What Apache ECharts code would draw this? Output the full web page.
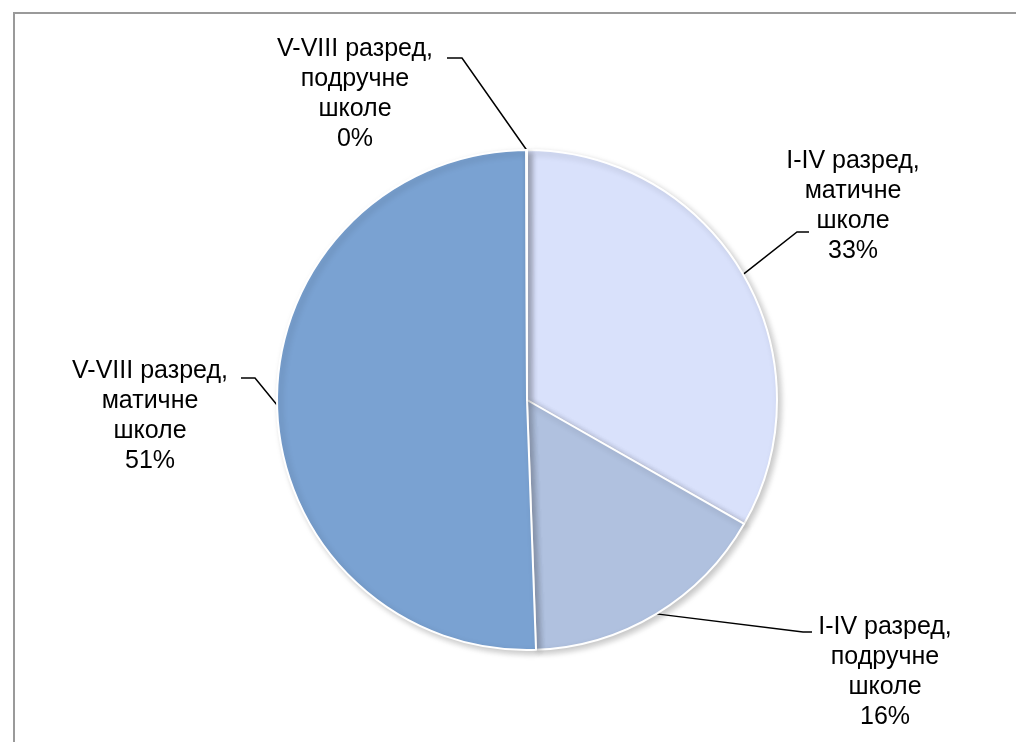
<!DOCTYPE html>
<html>
<head>
<meta charset="utf-8">
<script src="https://cdn.jsdelivr.net/npm/echarts@6/dist/echarts.min.js"></script>
<style>
html,body{margin:0;padding:0;background:#fff;}
#chart{width:1016px;height:742px;}
</style>
</head>
<body>
<div id="chart"></div>
<script>
const categories = [
  'I-IV разред,\nматичне\nшколе',
  'I-IV разред,\nподручне\nшколе',
  'V-VIII разред,\nматичне\nшколе',
  'V-VIII разред,\nподручне\nшколе'
];
const values = [33.3, 16.2, 50.6, 0.05];
const colors = ['#D9E1FB', '#B0C1DF', '#7AA2D2', '#C9D5EE'];

// label block centres and leader-line elbows (annotation layout only)
const labelPlace = [
  { cx: 853, cy: 206, elbow: [[797, 232], [809, 232]] },
  { cx: 885, cy: 672, elbow: [[803, 632], [812, 632]] },
  { cx: 150, cy: 416, elbow: [[255, 378], [241, 378]] },
  { cx: 355, cy: 94,  elbow: [[462, 58],  [447, 58]] }
];

const chart = echarts.init(document.getElementById('chart'), null, { renderer: 'canvas' });

const data = categories.map((c, i) => ({
  name: c,
  value: values[i],
  itemStyle: { color: colors[i] }
}));

chart.setOption({
  animation: false,
  graphic: [{
    type: 'rect',
    shape: { x: 14, y: 13, width: 1100, height: 1000 },
    style: { fill: 'none', stroke: '#9a9a9a', lineWidth: 2 },
    silent: true
  }],
  series: [{
    type: 'pie',
    center: [527, 400],
    radius: 250,
    startAngle: 90,
    clockwise: true,
    minAngle: 0,
    avoidLabelOverlap: false,
    data: data,
    itemStyle: {
      borderColor: '#ffffff',
      borderWidth: 2,
      shadowColor: 'rgba(0,0,0,0.22)',
      shadowBlur: 6,
      shadowOffsetX: 3,
      shadowOffsetY: 3
    },
    label: {
      show: true,
      position: 'outside',
      fontFamily: '"Liberation Sans", Arial, sans-serif',
      fontSize: 25,
      lineHeight: 30,
      color: '#000',
      align: 'center',
      formatter: p => p.name + '\n' + Math.round(p.percent) + '%'
    },
    labelLine: {
      show: true,
      lineStyle: { color: '#000', width: 1.5 },
      length: 20,
      length2: 10
    },
    labelLayout: function (params) {
      const pl = labelPlace[params.dataIndex];
      const start = params.labelLinePoints ? params.labelLinePoints[0] : null;
      const pts = start ? [start, pl.elbow[0], pl.elbow[1]] : undefined;
      return {
        x: pl.cx,
        y: pl.cy,
        align: 'center',
        verticalAlign: 'middle',
        labelLinePoints: pts
      };
    }
  }]
});
</script>
</body>
</html>
